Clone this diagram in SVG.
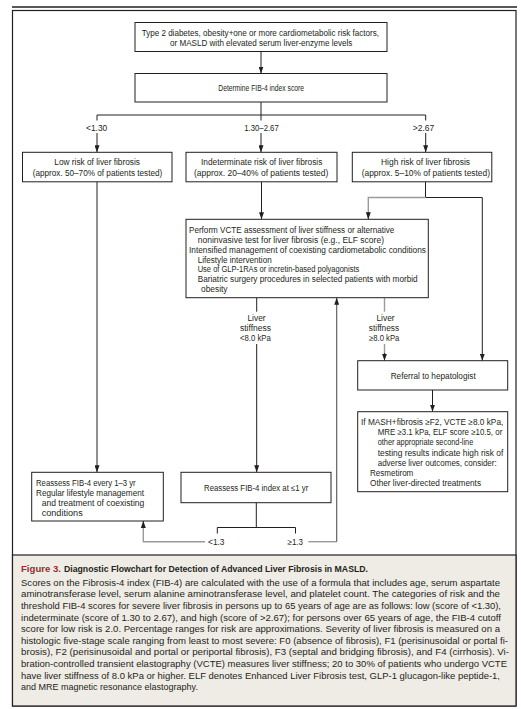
<svg xmlns="http://www.w3.org/2000/svg" width="521" height="709" viewBox="0 0 521 709">
<defs>
<style>
.box{fill:#fff;stroke:#231f20;stroke-width:1}
.t{font-family:"Liberation Sans",Arial,sans-serif;font-size:8.4px;fill:#231f20}
.m{text-anchor:middle}
.c{stroke:#231f20;stroke-width:1;fill:none}
.g{stroke:#9a9a9a;stroke-width:1.4;fill:none}
.d{stroke:#555;stroke-width:1.1;fill:none}
.cap{font-family:"Liberation Sans",Arial,sans-serif;font-size:9px;fill:#231f20}
.capt{font-weight:bold}
</style>
<marker id="ah" markerUnits="userSpaceOnUse" markerWidth="7" markerHeight="5" refX="7" refY="2.5" orient="auto">
<path d="M0,0 L7,2.5 L0,5 z" fill="#231f20"/>
</marker>
</defs>
<rect width="521" height="709" fill="#fff"/>
<line x1="12" y1="7" x2="517" y2="7" stroke="#231f20" stroke-width="1.6"/>
<rect x="12.5" y="10.5" width="503.5" height="695.5" fill="#fff" stroke="#231f20" stroke-width="1.2"/>
<rect id="caption-bg" x="12.5" y="555" width="503.5" height="151" fill="#efece6" stroke="#231f20" stroke-width="1.2"/>

<g id="connectors">
<line class="c" x1="261" y1="51.5" x2="261" y2="73.5" marker-end="url(#ah)"/>
<polyline class="c" points="261,102 261,120.5"/>
<polyline class="c" points="97,120.5 97,115 425.7,115 425.7,120.5"/>
<line class="c" x1="97" y1="133" x2="97" y2="152.3" marker-end="url(#ah)"/>
<line class="c" x1="261" y1="133" x2="261" y2="152.3" marker-end="url(#ah)"/>
<line class="c" x1="425.7" y1="133" x2="425.7" y2="152.3" marker-end="url(#ah)"/>
<line class="c" x1="97" y1="181.8" x2="97" y2="472.3" marker-end="url(#ah)"/>
<line class="c" x1="261.5" y1="181.8" x2="261.5" y2="219.3" marker-end="url(#ah)"/>
<polyline class="c" points="425.5,181.8 425.5,197.5 482.3,197.5 482.3,360.7" marker-end="url(#ah)"/>
<polyline class="g" points="425.5,197.5 368.3,197.5 368.3,217"/>
<line class="c" x1="368.3" y1="212" x2="368.3" y2="219.3" marker-end="url(#ah)"/>
<line class="c" x1="256.7" y1="297.7" x2="256.7" y2="311.7"/>
<line class="c" x1="256.7" y1="344" x2="256.7" y2="472.3" marker-end="url(#ah)"/>
<line class="g" x1="384.5" y1="297.7" x2="384.5" y2="311.7"/>
<line class="g" x1="384.5" y1="344" x2="384.5" y2="358"/>
<line class="c" x1="384.5" y1="353" x2="384.5" y2="360.7" marker-end="url(#ah)"/>
<line class="c" x1="432.5" y1="390" x2="432.5" y2="411.7" marker-end="url(#ah)"/>
<polyline class="c" points="256.3,502.7 256.3,527.5"/>
<polyline class="c" points="217.3,533.5 217.3,527.5 295.5,527.5 295.5,533.5"/>
<polyline class="g" points="205,541.7 143.3,541.7 143.3,524"/>
<line class="c" x1="143.3" y1="528" x2="143.3" y2="521" marker-end="url(#ah)"/>
<polyline class="g" points="308.3,541.7 336.7,541.7"/>
<line class="d" x1="336.7" y1="541.7" x2="336.7" y2="297.7" marker-end="url(#ah)"/>
</g>

<g id="n-start">
<rect class="box" x="135" y="22.5" width="252" height="29"/>
<text class="t" x="141.7" y="36.3" textLength="237.3" lengthAdjust="spacingAndGlyphs">Type 2 diabetes, obesity+one or more cardiometabolic risk factors,</text>
<text class="t" x="170" y="46.3" textLength="182.3" lengthAdjust="spacingAndGlyphs">or MASLD with elevated serum liver-enzyme levels</text>
</g>
<g id="n-fib4">
<rect class="box" x="135" y="73.5" width="252" height="28.5"/>
<text class="t" x="218.3" y="90.7" textLength="85.7" lengthAdjust="spacingAndGlyphs">Determine FIB-4 index score</text>
</g>
<g id="branch-labels">
<text class="t" x="86" y="131.3" textLength="21.3" lengthAdjust="spacingAndGlyphs">&lt;1.30</text>
<text class="t" x="244.3" y="131.3" textLength="34.4" lengthAdjust="spacingAndGlyphs">1.30–2.67</text>
<text class="t" x="412.7" y="131.3" textLength="21.6" lengthAdjust="spacingAndGlyphs">&gt;2.67</text>
</g>
<g id="n-low">
<rect class="box" x="22.5" y="152.3" width="149.5" height="29.5"/>
<text class="t" x="54.3" y="164.7" textLength="85.7" lengthAdjust="spacingAndGlyphs">Low risk of liver fibrosis</text>
<text class="t" x="32.7" y="175.7" textLength="129.6" lengthAdjust="spacingAndGlyphs">(approx. 50–70% of patients tested)</text>
</g>
<g id="n-indet">
<rect class="box" x="186" y="152.3" width="151" height="29.5"/>
<text class="t" x="201" y="164.7" textLength="121.3" lengthAdjust="spacingAndGlyphs">Indeterminate risk of liver fibrosis</text>
<text class="t" x="194" y="175.7" textLength="134.3" lengthAdjust="spacingAndGlyphs">(approx. 20–40% of patients tested)</text>
</g>
<g id="n-high">
<rect class="box" x="352.3" y="152.3" width="139.5" height="29.5"/>
<text class="t" x="381" y="164.7" textLength="89" lengthAdjust="spacingAndGlyphs">High risk of liver fibrosis</text>
<text class="t" x="361.7" y="175.7" textLength="128.3" lengthAdjust="spacingAndGlyphs">(approx. 5–10% of patients tested)</text>
</g>
<g id="n-vcte">
<rect class="box" x="186" y="219.3" width="242.3" height="78.4"/>
<text class="t" x="189" y="233" textLength="205.3" lengthAdjust="spacingAndGlyphs">Perform VCTE assessment of liver stiffness or alternative</text>
<text class="t" x="197.7" y="243" textLength="186.3" lengthAdjust="spacingAndGlyphs">noninvasive test for liver fibrosis (e.g., ELF score)</text>
<text class="t" x="189" y="253" textLength="237" lengthAdjust="spacingAndGlyphs">Intensified management of coexisting cardiometabolic conditions</text>
<text class="t" x="197.7" y="262.5" textLength="74" lengthAdjust="spacingAndGlyphs">Lifestyle intervention</text>
<text class="t" x="197.7" y="272.3" textLength="161.6" lengthAdjust="spacingAndGlyphs">Use of GLP-1RAs or incretin-based polyagonists</text>
<text class="t" x="197.7" y="282" textLength="220" lengthAdjust="spacingAndGlyphs">Bariatric surgery procedures in selected patients with morbid</text>
<text class="t" x="201" y="292">obesity</text>
</g>
<g id="lbl-lt8">
<text class="t m" x="256.5" y="320.7">Liver</text>
<text class="t m" x="255.5" y="330.7" textLength="31" lengthAdjust="spacingAndGlyphs">stiffness</text>
<text class="t m" x="255.4" y="340.7" textLength="30.7" lengthAdjust="spacingAndGlyphs">&lt;8.0 kPa</text>
</g>
<g id="lbl-ge8">
<text class="t m" x="385.5" y="320.7">Liver</text>
<text class="t m" x="384" y="330.7" textLength="30.3" lengthAdjust="spacingAndGlyphs">stiffness</text>
<text class="t m" x="384.2" y="340.7" textLength="30.3" lengthAdjust="spacingAndGlyphs">≥8.0 kPa</text>
</g>
<g id="n-referral">
<rect class="box" x="357.7" y="360.7" width="150" height="29.3"/>
<text class="t" x="390.7" y="378.7" textLength="85" lengthAdjust="spacingAndGlyphs">Referral to hepatologist</text>
</g>
<g id="n-mash">
<rect class="box" x="357.7" y="411.7" width="150" height="80"/>
<text class="t" x="361" y="424.7" textLength="142.3" lengthAdjust="spacingAndGlyphs">If MASH+fibrosis ≥F2, VCTE ≥8.0 kPa,</text>
<text class="t" x="377.7" y="435" textLength="124.6" lengthAdjust="spacingAndGlyphs">MRE ≥3.1 kPa, ELF score ≥10.5, or</text>
<text class="t" x="377.7" y="445" textLength="95.6" lengthAdjust="spacingAndGlyphs">other appropriate second-line</text>
<text class="t" x="377.7" y="455.5" textLength="125.6" lengthAdjust="spacingAndGlyphs">testing results indicate high risk of</text>
<text class="t" x="377.7" y="465.5" textLength="119" lengthAdjust="spacingAndGlyphs">adverse liver outcomes, consider:</text>
<text class="t" x="370" y="475.5" textLength="43.3" lengthAdjust="spacingAndGlyphs">Resmetirom</text>
<text class="t" x="370" y="486" textLength="111" lengthAdjust="spacingAndGlyphs">Other liver-directed treatments</text>
</g>
<g id="n-reassess-low">
<rect class="box" x="31.7" y="472.3" width="131.6" height="48.7"/>
<text class="t" x="36" y="485.5" textLength="99.7" lengthAdjust="spacingAndGlyphs">Reassess FIB-4 every 1–3 yr</text>
<text class="t" x="36" y="495.5" textLength="108" lengthAdjust="spacingAndGlyphs">Regular lifestyle management</text>
<text class="t" x="41.7" y="506" textLength="102.6" lengthAdjust="spacingAndGlyphs">and treatment of coexisting</text>
<text class="t" x="41.7" y="515.5" textLength="41" lengthAdjust="spacingAndGlyphs">conditions</text>
</g>
<g id="n-reassess-1yr">
<rect class="box" x="181" y="472.3" width="150" height="30.4"/>
<text class="t" x="204" y="490.5" textLength="104.3" lengthAdjust="spacingAndGlyphs">Reassess FIB-4 index at ≤1 yr</text>
</g>
<g id="loop-labels">
<text class="t" x="208" y="544.7" textLength="16.5" lengthAdjust="spacingAndGlyphs">&lt;1.3</text>
<text class="t" x="287.5" y="544.7" textLength="15.5" lengthAdjust="spacingAndGlyphs">≥1.3</text>
</g>

<g id="caption">
<text class="cap capt" x="21" y="571.5" fill="#a3262c" style="fill:#a3262c" textLength="40" lengthAdjust="spacingAndGlyphs">Figure 3.</text>
<text class="cap capt" x="64" y="571.5" textLength="304" lengthAdjust="spacingAndGlyphs">Diagnostic Flowchart for Detection of Advanced Liver Fibrosis in MASLD.</text>
<text class="cap" x="21" y="585.8" textLength="479" lengthAdjust="spacingAndGlyphs">Scores on the Fibrosis-4 index (FIB-4) are calculated with the use of a formula that includes age, serum aspartate</text>
<text class="cap" x="21" y="597.4" textLength="479" lengthAdjust="spacingAndGlyphs">aminotransferase level, serum alanine aminotransferase level, and platelet count. The categories of risk and the</text>
<text class="cap" x="21" y="609" textLength="480" lengthAdjust="spacingAndGlyphs">threshold FIB-4 scores for severe liver fibrosis in persons up to 65 years of age are as follows: low (score of &lt;1.30),</text>
<text class="cap" x="21" y="620.6" textLength="480" lengthAdjust="spacingAndGlyphs">indeterminate (score of 1.30 to 2.67), and high (score of &gt;2.67); for persons over 65 years of age, the FIB-4 cutoff</text>
<text class="cap" x="21" y="632.2" textLength="479" lengthAdjust="spacingAndGlyphs">score for low risk is 2.0. Percentage ranges for risk are approximations. Severity of liver fibrosis is measured on a</text>
<text class="cap" x="21" y="643.8" textLength="487" lengthAdjust="spacingAndGlyphs">histologic five-stage scale ranging from least to most severe: F0 (absence of fibrosis), F1 (perisinusoidal or portal fi-</text>
<text class="cap" x="21" y="655.4" textLength="488" lengthAdjust="spacingAndGlyphs">brosis), F2 (perisinusoidal and portal or periportal fibrosis), F3 (septal and bridging fibrosis), and F4 (cirrhosis). Vi-</text>
<text class="cap" x="21" y="667" textLength="486" lengthAdjust="spacingAndGlyphs">bration-controlled transient elastography (VCTE) measures liver stiffness; 20 to 30% of patients who undergo VCTE</text>
<text class="cap" x="21" y="678.6" textLength="479" lengthAdjust="spacingAndGlyphs">have liver stiffness of 8.0 kPa or higher. ELF denotes Enhanced Liver Fibrosis test, GLP-1 glucagon-like peptide-1,</text>
<text class="cap" x="21" y="690.2">and MRE magnetic resonance elastography.</text>
</g>
</svg>
